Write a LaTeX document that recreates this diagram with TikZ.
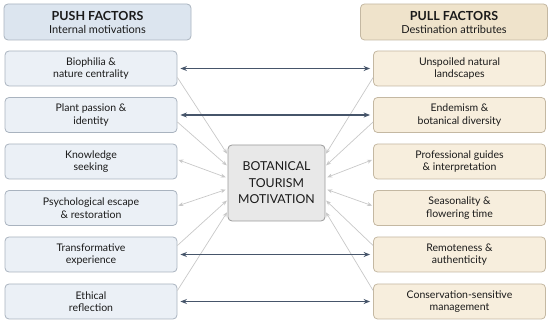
\documentclass[tikz,border=0pt]{standalone}
\usepackage{fontspec}
\setmainfont{Lato}
\usetikzlibrary{arrows.meta,calc}
\definecolor{pushfill}{HTML}{EBF0F6}
\definecolor{pushedge}{HTML}{A9B3BF}
\definecolor{pushhead}{HTML}{DCE5EF}
\definecolor{pullfill}{HTML}{F7EEDD}
\definecolor{pulledge}{HTML}{C4B8A2}
\definecolor{pullhead}{HTML}{EFE3CB}
\definecolor{cfill}{HTML}{E8E8E8}
\definecolor{cedge}{HTML}{9A9A9A}
\definecolor{darkline}{HTML}{46556A}
\definecolor{greyline}{HTML}{C8C8C8}
\definecolor{txt}{HTML}{1A1A1A}
\begin{document}
\begin{tikzpicture}[x=1pt,y=-1pt,
  box/.style={rounded corners=4pt, line width=0.8pt, align=center, inner sep=0pt, text=txt,
    minimum width=172pt, minimum height=35pt, font=\fontsize{10.5}{12.5}\selectfont},
  pushbox/.style={box, draw=pushedge, fill=pushfill},
  pullbox/.style={box, draw=pulledge, fill=pullfill},
  headbox/.style={rounded corners=4pt, line width=0.8pt, align=center, inner sep=0pt, text=txt,
    minimum width=187pt, minimum height=36pt, font=\fontsize{11}{13}\selectfont},
  centerbox/.style={rounded corners=4pt, line width=0.8pt, align=center, inner sep=0pt, text=txt,
    draw=cedge, fill=cfill, minimum width=97pt, minimum height=76pt, font=\fontsize{12.3}{16.5}\selectfont},
  darkarrow/.style={draw=darkline, line width=1.1pt, {Stealth[length=6.5pt,width=5pt]}-{Stealth[length=6.5pt,width=5pt]}, shorten <=3pt, shorten >=3pt},
  greyarrow/.style={draw=greyline, line width=0.7pt, -{Stealth[length=5pt,width=4pt]}, shorten >=1pt},
  greyboth/.style={draw=greyline, line width=0.7pt, {Stealth[length=5pt,width=4pt]}-{Stealth[length=5pt,width=4pt]}, shorten >=1pt, shorten <=2pt}
]
\useasboundingbox (0,0) rectangle (550,326);

\node[headbox, draw=pushedge, fill=pushhead] (LH) at (97.5,22) {{\bfseries\fontsize{12.5}{14}\selectfont PUSH FACTORS}\\Internal motivations};
\node[headbox, draw=pulledge, fill=pullhead] (RH) at (454,22) {{\bfseries\fontsize{12.5}{14}\selectfont PULL FACTORS}\\Destination attributes};

\node[pushbox] (L1) at (91,68.5) {Biophilia \&\\nature centrality};
\node[pushbox] (L2) at (91,115) {Plant passion \&\\identity};
\node[pushbox] (L3) at (91,161.5) {Knowledge\\seeking};
\node[pushbox] (L4) at (91,208) {Psychological escape\\\& restoration};
\node[pushbox] (L5) at (91,254.5) {Transformative\\experience};
\node[pushbox] (L6) at (91,301.5) {Ethical\\reflection};

\node[pullbox] (R1) at (459.5,68.5) {Unspoiled natural\\landscapes};
\node[pullbox] (R2) at (459.5,115) {Endemism \&\\botanical diversity};
\node[pullbox] (R3) at (459.5,161.5) {Professional guides\\\& interpretation};
\node[pullbox] (R4) at (459.5,208) {Seasonality \&\\flowering time};
\node[pullbox] (R5) at (459.5,254.5) {Remoteness \&\\authenticity};
\node[pullbox] (R6) at (459.5,301.5) {Conservation-sensitive\\management};

\node[centerbox] (C) at (276.5,183) {BOTANICAL\\TOURISM\\MOTIVATION};

% grey connectors, left
\draw[greyarrow] ($(L1.east)+(0,9)$) -- ($(C.north west)!.13!(C.south west)$);
\draw[greyarrow] ($(L2.east)+(0,7)$) -- ($(C.north west)!.28!(C.south west)$);
\draw[greyboth] (C.west|-0,178) -- ($(L3.east)+(0,-2)$);
\draw[greyboth] (C.west|-0,189) -- ($(L4.east)+(0,-2)$);
\draw[greyarrow] ($(L5.east)+(0,-9)$) -- ($(C.north west)!.72!(C.south west)$);
\draw[greyarrow] ($(L6.east)+(0,-11)$) -- ($(C.north west)!.87!(C.south west)$);
% grey connectors, right
\draw[greyarrow] ($(R1.west)+(0,9)$) -- ($(C.north east)!.13!(C.south east)$);
\draw[greyarrow] ($(R2.west)+(0,7)$) -- ($(C.north east)!.28!(C.south east)$);
\draw[greyboth] (C.east|-0,178) -- ($(R3.west)+(0,-2)$);
\draw[greyboth] (C.east|-0,189) -- ($(R4.west)+(0,-2)$);
\draw[greyarrow] ($(R5.west)+(0,-9)$) -- ($(C.north east)!.72!(C.south east)$);
\draw[greyarrow] ($(R6.west)+(0,-11)$) -- ($(C.north east)!.87!(C.south east)$);

% dark connectors
\draw[darkarrow] (L1) -- (R1);
\draw[darkarrow] (L2) -- (R2);
\draw[darkarrow] (L5) -- (R5);
\draw[darkarrow] (L6) -- (R6);
\end{tikzpicture}
\end{document}
